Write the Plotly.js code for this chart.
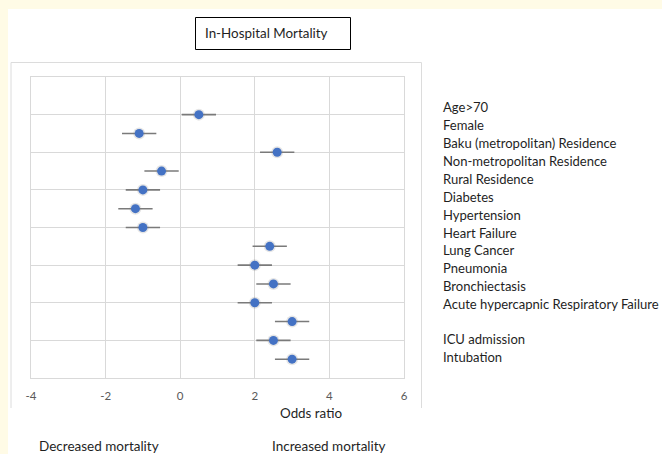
<!DOCTYPE html>
<html>
<head>
<meta charset="utf-8">
<script src="https://cdn.plot.ly/plotly-3.0.1.min.js"></script>
<style>
  html, body { margin: 0; padding: 0; background: #ffffff; }
  #chart { width: 662px; height: 454px; }
</style>
</head>
<body>
<div id="chart"></div>
<script>
// ---- data ----
const variables = ['Age>70', 'Female', 'Baku (metropolitan) Residence', 'Non-metropolitan Residence',
  'Rural Residence', 'Diabetes', 'Hypertension', 'Heart Failure', 'Lung Cancer', 'Pneumonia',
  'Bronchiectasis', 'Acute hypercapnic Respiratory Failure', 'ICU admission', 'Intubation'];
const oddsRatio = [0.5, -1.1, 2.6, -0.5, -1.0, -1.2, -1.0, 2.4, 2.0, 2.5, 2.0, 3.0, 2.5, 3.0];
const rowPosition = [14, 13, 12, 11, 10, 9, 8, 7, 6, 5, 4, 3, 2, 1];
const ciHalfWidth = [0.46, 0.46, 0.46, 0.46, 0.46, 0.46, 0.46, 0.46, 0.46, 0.46, 0.46, 0.46, 0.46, 0.46];
const xTickValues = [-4, -2, 0, 2, 4, 6];
const xTickLabels = ['-4', '-2', '0', '2', '4', '6'];
const chartTitle = 'In-Hospital Mortality';
const xAxisTitle = 'Odds ratio';
const leftNote = 'Decreased mortality';
const rightNote = 'Increased mortality';

// ---- layout helpers (pixel -> paper) ----
const W = 662, H = 454;
const M = { l: 31, r: 258, t: 77, b: 76 };
const PW = W - M.l - M.r, PH = H - M.t - M.b;
const fx = p => (p - M.l) / PW;
const fy = p => (H - M.b - p) / PH;

const FONT = 'Lato, "Open Sans", sans-serif';
const TEXT = '#1f1f1f';

const shadow = {
  type: 'scatter', mode: 'markers', x: oddsRatio, y: rowPosition,
  marker: { size: 12, color: 'rgba(0,0,0,0.10)' },
  hoverinfo: 'skip', showlegend: false, cliponaxis: false
};
const points = {
  type: 'scatter', mode: 'markers', x: oddsRatio, y: rowPosition,
  text: variables,
  error_x: { type: 'data', array: ciHalfWidth, symmetric: true, color: '#7a7a7a', thickness: 1.6, width: 0 },
  marker: { size: 9, color: '#4472c4' },
  showlegend: false, cliponaxis: false
};

const labelY0 = 107.3, labelStep = 17.9;
const labelAnn = variables.map((v, i) => {
  const py = i < 12 ? labelY0 + i * labelStep : 339.3 + (i - 12) * 18.0;
  return {
    text: v, xref: 'paper', yref: 'paper', x: fx(440.5), y: fy(py),
    xanchor: 'left', yanchor: 'middle', showarrow: false,
    font: { family: FONT, size: 13.05, color: TEXT }
  };
});

const layout = {
  width: W, height: H, margin: M,
  paper_bgcolor: '#ffffff', plot_bgcolor: '#ffffff',
  font: { family: FONT },
  showlegend: false,
  xaxis: {
    range: [-4, 6], tickvals: xTickValues, ticktext: xTickLabels,
    showgrid: true, gridcolor: '#d9d9d9', gridwidth: 1, zeroline: false,
    showline: true, linecolor: '#d9d9d9', linewidth: 1, mirror: true,
    ticks: '', ticklabelstandoff: 7,
    tickfont: { family: FONT, size: 11.5, color: '#595959' }, fixedrange: true
  },
  yaxis: {
    range: [0, 16], dtick: 2, tick0: 0, showticklabels: false,
    showgrid: true, gridcolor: '#d9d9d9', gridwidth: 1, zeroline: false,
    showline: true, linecolor: '#d9d9d9', linewidth: 1, mirror: true,
    ticks: '', fixedrange: true
  },
  shapes: [
    // cream page edges
    { type: 'rect', xref: 'paper', yref: 'paper', x0: fx(0), x1: fx(W), y0: fy(0), y1: fy(9), fillcolor: '#fffbe6', line: { width: 0 }, layer: 'above' },
    { type: 'rect', xref: 'paper', yref: 'paper', x0: fx(0), x1: fx(8), y0: fy(0), y1: fy(H), fillcolor: '#fffbe6', line: { width: 0 }, layer: 'above' },
    // chart frame
    { type: 'line', xref: 'paper', yref: 'paper', x0: fx(11), x1: fx(421.5), y0: fy(62.5), y1: fy(62.5), line: { color: '#dcdcdc', width: 1 } },
    { type: 'line', xref: 'paper', yref: 'paper', x0: fx(11), x1: fx(11), y0: fy(62.5), y1: fy(408), line: { color: '#dcdcdc', width: 1 } },
    { type: 'line', xref: 'paper', yref: 'paper', x0: fx(421.5), x1: fx(421.5), y0: fy(62.5), y1: fy(408), line: { color: '#dcdcdc', width: 1 } },
    // title box
    { type: 'rect', xref: 'paper', yref: 'paper', x0: fx(195.5), x1: fx(350.5), y0: fy(17.5), y1: fy(49.5), line: { color: '#000000', width: 1 }, fillcolor: 'rgba(0,0,0,0)' }
  ],
  annotations: [
    { text: chartTitle, xref: 'paper', yref: 'paper', x: fx(266), y: fy(33), xanchor: 'center', yanchor: 'middle', showarrow: false, font: { family: FONT, size: 13.4, color: TEXT } },
    { text: xAxisTitle, xref: 'paper', yref: 'paper', x: fx(311), y: fy(413), xanchor: 'center', yanchor: 'middle', showarrow: false, font: { family: FONT, size: 13.4, color: TEXT } },
    { text: leftNote, xref: 'paper', yref: 'paper', x: fx(99), y: fy(445.5), xanchor: 'center', yanchor: 'middle', showarrow: false, font: { family: FONT, size: 13.5, color: TEXT } },
    { text: rightNote, xref: 'paper', yref: 'paper', x: fx(329), y: fy(445.5), xanchor: 'center', yanchor: 'middle', showarrow: false, font: { family: FONT, size: 13.5, color: TEXT } }
  ].concat(labelAnn)
};

Plotly.newPlot('chart', [shadow, points], layout, { displayModeBar: false, staticPlot: true });
</script>
</body>
</html>
